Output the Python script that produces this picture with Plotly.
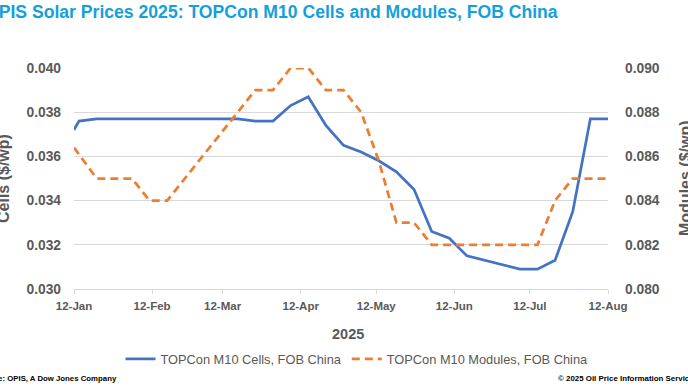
import plotly.graph_objects as go

# ---- data ----
dates = [
    "2025-01-12", "2025-01-14", "2025-01-21", "2025-01-28", "2025-02-04", "2025-02-11",
    "2025-02-18", "2025-02-25", "2025-03-04", "2025-03-11", "2025-03-18", "2025-03-25",
    "2025-04-01", "2025-04-08", "2025-04-15", "2025-04-22", "2025-04-29", "2025-05-06",
    "2025-05-13", "2025-05-20", "2025-05-27", "2025-06-03", "2025-06-10", "2025-06-17",
    "2025-06-24", "2025-07-01", "2025-07-08", "2025-07-15", "2025-07-22", "2025-07-29",
    "2025-08-05", "2025-08-12",
]
cells = [
    0.0372, 0.0376, 0.0377, 0.0377, 0.0377, 0.0377,
    0.0377, 0.0377, 0.0377, 0.0377, 0.0377, 0.0376,
    0.0376, 0.0383, 0.0387, 0.0374, 0.0365, 0.0362,
    0.0358, 0.0353, 0.0345, 0.0326, 0.0323, 0.0315,
    0.0313, 0.0311, 0.0309, 0.0309, 0.0313, 0.0335,
    0.0377, 0.0377,
]
modules = [
    0.0864, 0.0861, 0.0850, 0.0850, 0.0850, 0.0840,
    0.0840, 0.0850, 0.0860, 0.0870, 0.0880, 0.0890,
    0.0890, 0.0900, 0.0900, 0.0890, 0.0890, 0.0880,
    0.0858, 0.0830, 0.0830, 0.0820, 0.0820, 0.0820,
    0.0820, 0.0820, 0.0820, 0.0820, 0.0840, 0.0850,
    0.0850, 0.0850,
]
cells_name = "TOPCon M10 Cells, FOB China"
modules_name = "TOPCon M10 Modules, FOB China"
title_text = "OPIS Solar Prices 2025: TOPCon M10 Cells and Modules, FOB China"
left_title = "Cells ($/wp)"
right_title = "Modules ($/wp)"
x_title = "2025"
source_text = "Source: OPIS, A Dow Jones Company"
copyright_text = "\u00a9 2025 Oil Price Information Service"

# ---- layout geometry (pixels) ----
W, H = 688, 387
L, R, T, B = 74, 80, 68, 98
PW, PH = W - L - R, H - T - B


def px(x):
    return (x - L) / PW


def py(y):
    return (H - B - y) / PH


GRAY = "#595959"
GRID = "#D9D9D9"
FONT = "Liberation Sans, Arial, sans-serif"

fig = go.Figure()
fig.add_trace(go.Scatter(
    x=dates, y=cells, name=cells_name, mode="lines",
    line=dict(color="#4472C4", width=2.75),
    yaxis="y",
))
fig.add_trace(go.Scatter(
    x=dates, y=modules, name=modules_name, mode="lines",
    line=dict(color="#ED7D31", width=2.75, dash="8px,5px"),
    yaxis="y2",
))

fig.update_layout(
    width=W, height=H,
    margin=dict(l=L, r=R, t=T, b=B, pad=0),
    paper_bgcolor="white", plot_bgcolor="white",
    font=dict(family=FONT, color=GRAY),
    showlegend=True,
    legend=dict(
        orientation="h", x=px(357), xanchor="center", y=py(359), yanchor="middle",
        font=dict(size=12.8, color=GRAY, family=FONT),
        bgcolor="rgba(0,0,0,0)", itemwidth=30,
    ),
    xaxis=dict(
        type="date", range=["2025-01-12", "2025-08-12"],
        tick0="2025-01-12", dtick="M1", tickformat="%d-%b",
        showgrid=False, showline=True, linecolor=GRID, linewidth=1,
        ticks="outside", ticklen=4, tickcolor=GRID,
        tickfont=dict(size=11.5, color=GRAY, family=FONT, weight="bold"),
        ticklabelstandoff=2, zeroline=False,
    ),
    yaxis=dict(
        range=[0.030, 0.040], dtick=0.002, tick0=0.030, tickformat=".3f",
        showgrid=True, gridcolor=GRID, gridwidth=1, zeroline=False,
        showline=False, ticks="",
        tickfont=dict(size=13.8, color=GRAY, family=FONT, weight="bold"),
        ticklabelstandoff=12,
    ),
    yaxis2=dict(
        range=[0.080, 0.090], dtick=0.002, tick0=0.080, tickformat=".3f",
        overlaying="y", side="right", showgrid=False, zeroline=False,
        showline=False, ticks="",
        tickfont=dict(size=13.8, color=GRAY, family=FONT, weight="bold"),
        ticklabelstandoff=16,
    ),
)

annotations = [
    dict(text=title_text, x=px(560), y=py(12), xanchor="right", yanchor="middle",
         font=dict(size=17.6, color="#14A0DC", family=FONT, weight="bold")),
    dict(text=left_title, x=px(3), y=py(179), textangle=-90, xanchor="center", yanchor="middle",
         font=dict(size=16, color=GRAY, family=FONT, weight="bold")),
    dict(text=right_title, x=px(685), y=py(178), textangle=-90, xanchor="center", yanchor="middle",
         font=dict(size=16, color=GRAY, family=FONT, weight="bold")),
    dict(text=x_title, x=px(348), y=py(334), xanchor="center", yanchor="middle",
         font=dict(size=14.5, color=GRAY, family=FONT, weight="bold")),
    dict(text=source_text, x=px(119), y=py(378), xanchor="right", yanchor="middle",
         font=dict(size=7.8, color="black", family=FONT, weight="bold")),
    dict(text=copyright_text, x=px(556), y=py(378), xanchor="left", yanchor="middle",
         font=dict(size=7.9, color="black", family=FONT, weight="bold")),
]
for a in annotations:
    a.update(xref="paper", yref="paper", showarrow=False)
fig.update_layout(annotations=annotations)

# remove the browser's default 8px body margin so the figure sits at the page origin
fig.write_html(
    "out.html",
    config={"displayModeBar": False},
    post_script="document.body.style.margin='0';document.body.style.overflow='hidden';",
)
